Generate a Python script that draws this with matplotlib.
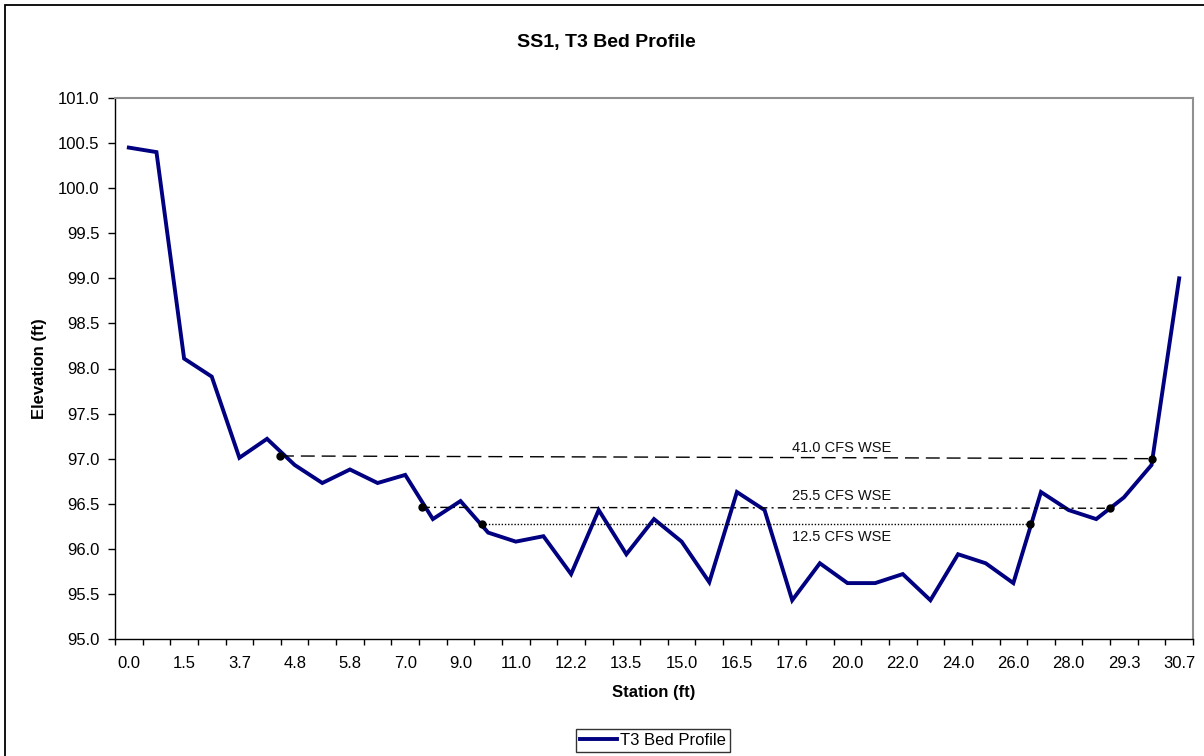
import matplotlib
matplotlib.use("Agg")
import matplotlib.pyplot as plt
from matplotlib.patches import Rectangle
import numpy as np

plt.rcParams['font.family'] = ['Liberation Sans', 'DejaVu Sans']

# ---- data ----
station_labels = ["0.0", "1.5", "3.7", "4.8", "5.8", "7.0", "9.0", "11.0", "12.2", "13.5",
                  "15.0", "16.5", "17.6", "20.0", "22.0", "24.0", "26.0", "28.0", "29.3", "30.7"]
elevation = [100.45, 100.40, 98.11, 97.91, 97.01, 97.22, 96.93, 96.73, 96.88, 96.73,
             96.82, 96.33, 96.53, 96.18, 96.08, 96.14, 95.72, 96.43, 95.94, 96.33,
             96.08, 95.63, 96.63, 96.43, 95.43, 95.84, 95.62, 95.62, 95.72, 95.43,
             95.94, 95.84, 95.62, 96.63, 96.43, 96.33, 96.57, 96.93, 99.00]

# water surface elevations: label, left/right position (category index), left/right elevation
wse_names = ["41.0 CFS WSE", "25.5 CFS WSE", "12.5 CFS WSE"]
wse_x_left = [5.47, 10.59, 12.79]
wse_x_right = [37.0, 35.48, 32.62]
wse_y_left = [97.03, 96.46, 96.28]
wse_y_right = [97.00, 96.45, 96.28]
wse_label_y = [97.12, 96.59, 96.13]
wse_label_x = 25.8
wse_styles = [dict(dashes=(10, 5)), dict(dashes=(6, 3, 1.5, 3)), dict(dashes=(1, 1.3))]

fig = plt.figure(figsize=(12.04, 7.56), dpi=100)
ax = fig.add_axes([115/1204, 1 - 639/756, (1193 - 115)/1204, (639 - 98)/756])

idx = np.arange(len(elevation))
line, = ax.plot(idx, elevation, color='#000080', lw=2.8, solid_joinstyle='miter',
                label='T3 Bed Profile', zorder=3)

for name, xl, xr, yl, yr, ly, st in zip(wse_names, wse_x_left, wse_x_right, wse_y_left,
                                        wse_y_right, wse_label_y, wse_styles):
    ax.plot([xl, xr], [yl, yr], color='black', lw=1.0, zorder=4, **st)
    ax.plot([xl, xr], [yl, yr], linestyle='none', marker='o', ms=5, color='black', zorder=5)
    ax.text(wse_label_x, ly, name, ha='center', va='center', fontsize=10.5, color='#111111')

ax.set_xlim(-0.5, len(elevation) - 0.5)
ax.set_ylim(95.0, 101.0)

ax.set_xticks(np.arange(-0.5, len(elevation), 1.0))
ax.set_xticklabels([])
ax.set_xticks(np.arange(0, len(elevation), 2), minor=True)
ax.set_xticklabels(station_labels, minor=True)
ax.tick_params(axis='x', which='major', direction='out', length=4, width=1, color='black')
ax.tick_params(axis='x', which='minor', length=0, pad=12, labelsize=12)

yt = np.arange(95.0, 101.01, 0.5)
ax.set_yticks(yt)
ax.set_yticklabels([f"{v:.1f}" for v in yt])
ax.tick_params(axis='y', direction='out', length=5, width=1, pad=6, labelsize=12, color='black')

for s in ['top', 'right']:
    ax.spines[s].set_color('#909090')
    ax.spines[s].set_linewidth(1.5)
for s in ['left', 'bottom']:
    ax.spines[s].set_color('black')
    ax.spines[s].set_linewidth(1.0)

ax.set_xlabel('Station (ft)', fontsize=12, fontweight='bold', labelpad=10)
ax.set_ylabel('Elevation (ft)', fontsize=12, fontweight='bold', labelpad=8)
fig.text(606/1204, 1 - 42/756, 'SS1, T3 Bed Profile', ha='center', va='center',
         fontsize=14, fontweight='bold')

leg = fig.legend(handles=[line], loc='center', bbox_to_anchor=(653/1204, 1 - 740.5/756),
                 fontsize=12, frameon=True, fancybox=False, handlelength=2.2,
                 handletextpad=0.2, borderpad=0.25, borderaxespad=0)
leg.get_frame().set_edgecolor('black')
leg.get_frame().set_linewidth(1.0)

fig.patches.append(Rectangle((5/1204, -0.1), 1.2, 1.1 - 5/756, transform=fig.transFigure,
                             fill=False, edgecolor='black', lw=1.3))

fig.savefig('out.png', dpi=100)
